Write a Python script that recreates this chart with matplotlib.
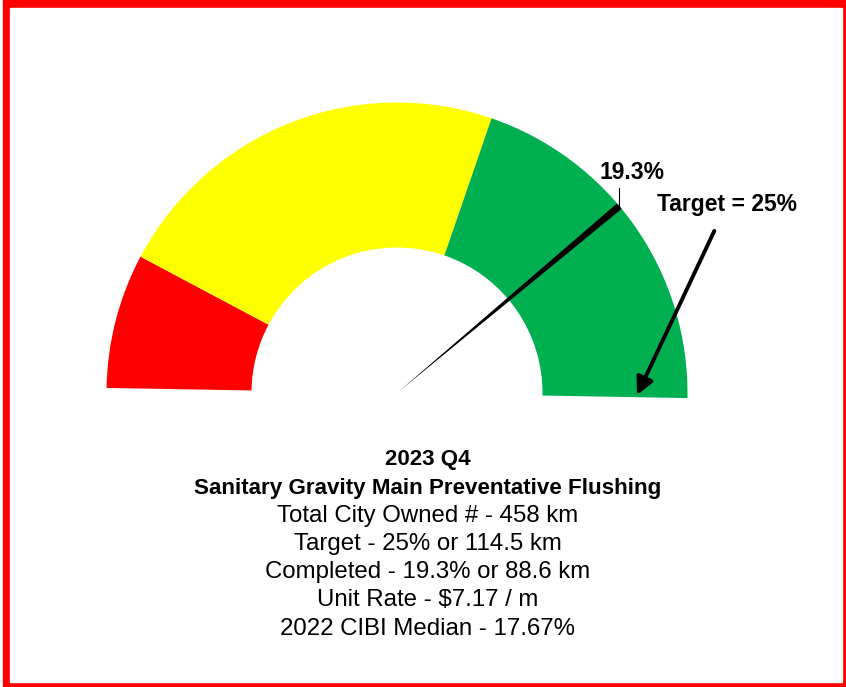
import matplotlib
matplotlib.use("Agg")
import matplotlib.pyplot as plt
from matplotlib.patches import Wedge, Polygon, Rectangle
import numpy as np

# gauge data (percent)
band_limits = [0, 3.75, 15, 25]
band_colors = ["#FF0000", "#FFFF00", "#00B050"]
completed = 19.3
target = 25
gauge_max = 25

title_lines = ["2023 Q4", "Sanitary Gravity Main Preventative Flushing"]
info_lines = [
    "Total City Owned # - 458 km",
    "Target - 25% or 114.5 km",
    "Completed - 19.3% or 88.6 km",
    "Unit Rate - $7.17 / m",
    "2022 CIBI Median - 17.67%",
]

W, H = 846, 687
fig = plt.figure(figsize=(W / 100, H / 100), dpi=100)
ax = fig.add_axes([0, 0, 1, 1])
ax.set_xlim(0, W)
ax.set_ylim(0, H)
ax.axis("off")

# red frame
ax.add_patch(Rectangle((3, 0), W - 3, H, color="#FF0000", zorder=0))
ax.add_patch(Rectangle((10, 5), 832, 674, color="white", zorder=0))

cx, cy = 397, H - 393
r_out, r_in = 290.5, 145.5
start_ang, span = 179.0, 180.0


def to_angle(v):
    return start_ang - span * v / gauge_max


for lo, hi, col in zip(band_limits[:-1], band_limits[1:], band_colors):
    ax.add_patch(Wedge((cx, cy), r_out, to_angle(hi), to_angle(lo),
                       width=r_out - r_in, color=col, lw=0, zorder=1))

# needle: tapered wedge from centre to outer edge
a = np.radians(to_angle(completed))
tip = np.array([cx + r_out * np.cos(a), cy + r_out * np.sin(a)])
perp = np.array([-np.sin(a), np.cos(a)]) * 3.6
base = np.array([cx + 2 * np.cos(a), cy + 2 * np.sin(a)])
ax.add_patch(Polygon([base, tip + perp, tip - perp], closed=True,
                     color="black", lw=0, zorder=3))

fam = ["Liberation Sans", "DejaVu Sans"]

# completed label with leader
ax.plot([tip[0], tip[0]], [tip[1], tip[1] + 18], color="black", lw=0.8, zorder=3)
ax.text(tip[0] + 13, tip[1] + 22, f"{completed}%", ha="center", va="bottom",
        fontsize=16.5, fontweight="bold", family=fam)

# target arrow
at = np.radians(to_angle(target) + 0.5)
ax.annotate(f"Target = {target}%",
            xy=(cx + 240 * np.cos(at), cy + 240 * np.sin(at)),
            xytext=(727, H - 204), ha="center", va="center",
            fontsize=16.5, fontweight="bold", family=fam,
            arrowprops=dict(arrowstyle="-|>", lw=2.8, color="black",
                            mutation_scale=26, shrinkA=10, shrinkB=0))

y0 = 460
step = 28.1
for i, line in enumerate(title_lines + info_lines):
    bold = i < 2
    ax.text(428, H - (y0 + i * step), line, ha="center", va="center",
            fontsize=16.1 if bold else 17.3,
            fontweight="bold" if bold else "normal", family=fam)

fig.savefig("out.png", dpi=100)
